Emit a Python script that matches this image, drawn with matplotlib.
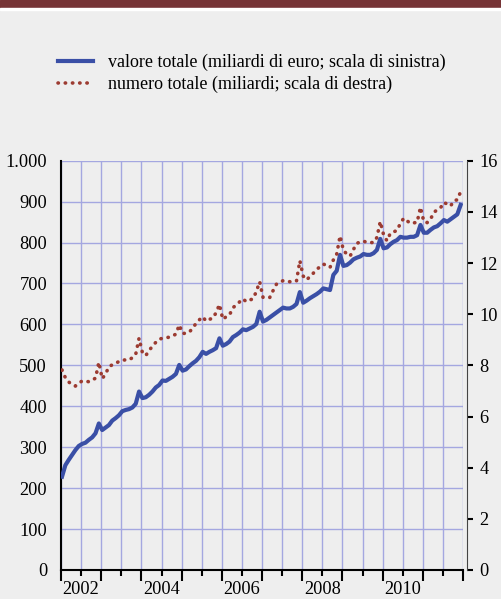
import numpy as np
import matplotlib
matplotlib.use("Agg")
from matplotlib import pyplot as plt
from matplotlib.patches import Rectangle
from matplotlib.ticker import FixedLocator, FuncFormatter

plt.rcParams['font.family'] = ['Liberation Serif', 'DejaVu Serif']

# monthly series, Jan 2002 - Dec 2011
years = list(range(2002, 2012))
valore = [  # miliardi di euro, left scale
    228, 256, 269, 281, 293, 303, 308, 311, 318, 324, 334, 358,
    342, 348, 354, 365, 371, 378, 388, 391, 393, 397, 406, 436,
    420, 422, 428, 436, 446, 452, 463, 462, 467, 472, 479, 501,
    487, 490, 498, 505, 511, 520, 533, 528, 533, 537, 542, 566,
    548, 552, 558, 569, 574, 580, 588, 586, 590, 594, 601, 631,
    607, 611, 617, 623, 629, 635, 641, 639, 639, 643, 650, 679,
    653, 658, 664, 669, 674, 680, 688, 686, 684, 721, 731, 770,
    743, 745, 751, 759, 763, 766, 772, 770, 770, 774, 782, 809,
    786, 788, 796, 802, 806, 814, 812, 812, 814, 814, 818, 843,
    824, 824, 831, 837, 840, 847, 855, 851, 857, 863, 869, 892,
]
numero = [  # miliardi, right scale
    7.82, 7.52, 7.35, 7.25, 7.19, 7.30, 7.39, 7.38, 7.36, 7.42, 7.50, 8.12,
    7.48, 7.66, 7.95, 8.02, 8.08, 8.15, 8.21, 8.21, 8.21, 8.30, 8.43, 9.06,
    8.50, 8.38, 8.58, 8.75, 8.90, 9.02, 9.06, 9.08, 9.10, 9.15, 9.22, 9.58,
    9.25, 9.25, 9.30, 9.45, 9.64, 9.78, 9.90, 9.73, 9.80, 9.84, 10.06, 10.38,
    9.80, 9.90, 9.97, 10.25, 10.36, 10.48, 10.60, 10.49, 10.55, 10.60, 10.88, 11.27,
    10.66, 10.65, 10.65, 10.92, 11.17, 11.25, 11.31, 11.28, 11.27, 11.27, 11.30, 12.09,
    11.49, 11.34, 11.47, 11.60, 11.75, 11.85, 11.96, 11.90, 11.83, 12.12, 12.35, 13.06,
    12.50, 12.35, 12.27, 12.53, 12.77, 12.82, 12.86, 12.80, 12.80, 12.80, 13.00, 13.62,
    13.10, 12.87, 13.16, 13.22, 13.27, 13.55, 13.75, 13.65, 13.55, 13.57, 13.59, 14.18,
    13.62, 13.58, 13.71, 13.98, 14.08, 14.16, 14.37, 14.30, 14.23, 14.44, 14.47, 14.79,
]
left_ticks = list(range(0, 1001, 100))
right_ticks = list(range(0, 17, 2))
year_labels = ['2002', '', '2004', '', '2006', '', '2008', '', '2010', '']
labels = ['valore totale (miliardi di euro; scala di sinistra)',
          'numero totale (miliardi; scala di destra)']

bg = '#eeeeee'
grid_col = '#a4a7e0'
blue = '#3a4fa6'
red = '#9c3b31'
fs = 13.2

x = years[0] + (np.arange(len(valore)) + 0.3) / 12.0

fig = plt.figure(figsize=(5.01, 5.99), dpi=100, facecolor=bg)
fig.patches.append(Rectangle((0, 1 - 7.5 / 599), 1, 7.5 / 599, transform=fig.transFigure,
                             color='#763436', zorder=0))
fig.patches.append(Rectangle((0, 1 - 10 / 599), 1, 2.5 / 599, transform=fig.transFigure,
                             color='white', zorder=0))

ax = fig.add_axes([61 / 501, 1 - 570 / 599, 402 / 501, 409.3 / 599])
ax.set_facecolor(bg)
ax2 = ax.twinx()

l1, = ax.plot(x, valore, color=blue, lw=3.0, solid_joinstyle='round', zorder=3)
l2, = ax2.plot(x, numero, color=red, lw=2.6, linestyle=(0, (0.1, 1.9)),
               dash_capstyle='round', zorder=3)

ax.set_xlim(years[0], years[-1] + 1)
ax.set_ylim(0, 1000)
ax2.set_ylim(0, 16)

ax.set_yticks(left_ticks)
ax.yaxis.set_major_formatter(FuncFormatter(lambda v, p: f"{v:,.0f}".replace(",", ".")))
ax2.set_yticks(right_ticks)

ax.xaxis.set_major_locator(FixedLocator(years + [years[-1] + 1]))
ax.xaxis.set_minor_locator(FixedLocator([y + 0.5 for y in years]))
ax.set_xticklabels([])
ax.set_xticklabels(year_labels, minor=True)

ax.grid(True, which='both', axis='x', color=grid_col, lw=1.0)
ax.grid(True, which='major', axis='y', color=grid_col, lw=1.0)
ax.set_axisbelow(True)

for s in ['top', 'right']:
    ax.spines[s].set_visible(False)
for s in ['top', 'left', 'bottom']:
    ax2.spines[s].set_visible(False)
ax.spines['left'].set_linewidth(1.5)
ax.spines['bottom'].set_linewidth(1.5)
ax2.spines['right'].set_position(('outward', 3))
ax2.spines['right'].set_color('#444444')

ax.tick_params(axis='y', length=0, pad=10, labelsize=fs)
ax.tick_params(axis='x', which='major', direction='out', length=8, width=1.5, labelsize=fs)
ax.tick_params(axis='x', which='minor', direction='out', length=4, width=1.5,
               pad=4, labelsize=fs)
ax2.tick_params(axis='y', direction='out', length=4, width=1.5, pad=5, labelsize=fs)

fig.legend([l1, l2], labels, loc='upper left', bbox_to_anchor=(58 / 501, 1 - 54 / 599),
           frameon=False, fontsize=13, handlelength=1.95, handletextpad=0.8,
           labelspacing=0.25, borderpad=0, borderaxespad=0)

fig.savefig('out.png', dpi=100, facecolor=bg)
